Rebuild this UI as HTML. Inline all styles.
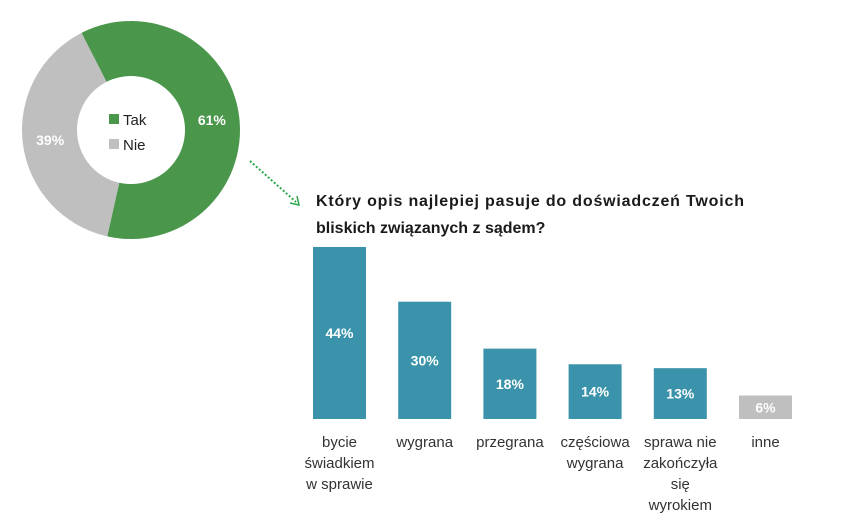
<!DOCTYPE html>
<html><head><meta charset="utf-8"><style>
body{margin:0;background:#fff;font-family:"Liberation Sans",sans-serif;}
svg{display:block}
</style></head><body>
<svg width="867" height="525">
<g id="donut"></g>
<line x1="250" y1="161" x2="296" y2="202" stroke="#2aa84a" stroke-width="2" stroke-dasharray="2,2"/>
<path d="M290 203 L299 205 L297 196" fill="none" stroke="#2aa84a" stroke-width="1.5"/>
<text x="316" y="206" font-size="16" font-weight="bold" fill="#1a1a1a" textLength="428">Który opis najlepiej pasuje do doświadczeń Twoich</text>
<text x="316" y="233" font-size="16" font-weight="bold" fill="#1a1a1a">bliskich związanych z sądem?</text>
<g id="bars"></g>
</svg>
<script>
const NS="http://www.w3.org/2000/svg";
const pieLabels=["Tak","Nie"];
const pieValues=[61,39];
const pieColors=["#4a974b","#bfbfbf"];
const categories=[["bycie","świadkiem","w sprawie"],["wygrana"],["przegrana"],["częściowa","wygrana"],["sprawa nie","zakończyła","się","wyrokiem"],["inne"]];
const values=[44,30,18,14,13,6];
const barColors=["#3a93ab","#3a93ab","#3a93ab","#3a93ab","#3a93ab","#bfbfbf"];
function mk(t,a,p){const e=document.createElementNS(NS,t);for(const k in a)e.setAttribute(k,a[k]);p.appendChild(e);return e;}
// donut
const cx=131,cy=130,R=109,r=54,start=-27;
const dg=document.getElementById("donut");
let ang=start;const tot=pieValues.reduce((a,b)=>a+b,0);
function pt(a,rad){const t=a*Math.PI/180;return [cx+rad*Math.sin(t),cy-rad*Math.cos(t)];}
pieValues.forEach((v,i)=>{
 const sw=v/tot*360,a2=ang+sw,lg=sw>180?1:0;
 const [x1,y1]=pt(ang,R),[x2,y2]=pt(a2,R),[x3,y3]=pt(a2,r),[x4,y4]=pt(ang,r);
 const p=mk("path",{d:`M${x1} ${y1}A${R} ${R} 0 ${lg} 1 ${x2} ${y2}L${x3} ${y3}A${r} ${r} 0 ${lg} 0 ${x4} ${y4}Z`,fill:pieColors[i]},dg);
 
 
 const [lx,ly]=pt(ang+sw/2,(R+r)/2);
 const t=mk("text",{x:lx,y:ly+5,"text-anchor":"middle","font-size":"14","font-weight":"bold",fill:"#fff"},dg);
 t.textContent=v+"%";
 
 
 ang=a2;
 const sq=mk("rect",{x:109,y:114+i*25,width:10,height:10,fill:pieColors[i]},dg);
 
 
 const lt=mk("text",{x:123,y:125+i*25,"font-size":"15",fill:"#222"},dg);
 lt.textContent=pieLabels[i];
 
 
});
// bars
const bg=document.getElementById("bars");
const base=419,scale=3.91,x0=313,pitch=85.2,bw=53;
values.forEach((v,i)=>{
 const h=v*scale,x=x0+i*pitch;
 const b=mk("rect",{x:x,y:base-h,width:bw,height:h,fill:barColors[i]},bg);
 
 
 const ty=h>40?base-h/2+5:base-h/2+5;
 const t=mk("text",{x:x+bw/2,y:ty,"text-anchor":"middle","font-size":"14","font-weight":"bold",fill:"#fff"},bg);
 t.textContent=v+"%";
 
 
 categories[i].forEach((ln,j)=>{
  const c=mk("text",{x:x+bw/2,y:447+j*21,"text-anchor":"middle","font-size":"15",fill:"#333"},bg);
  c.textContent=ln;
  
  
 });
});
</script>
</body></html>
